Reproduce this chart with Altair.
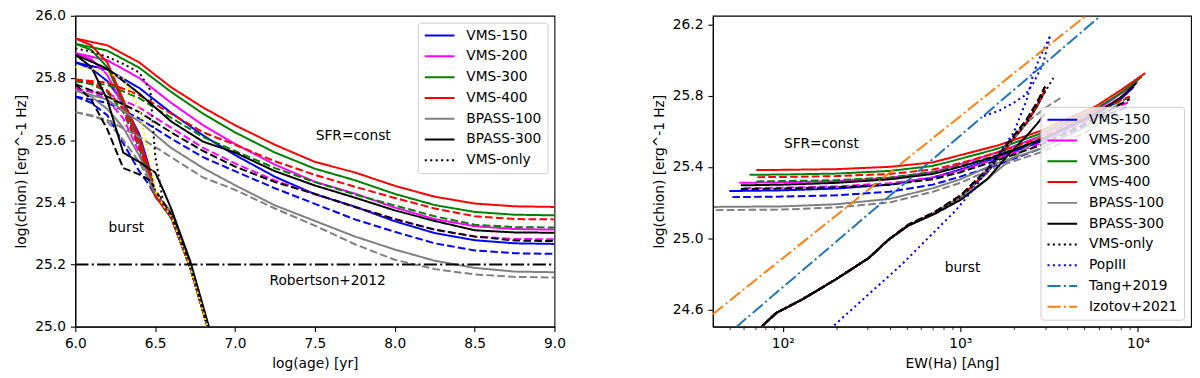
import altair as alt
import pandas as pd

# ---------------- colours / dash patterns ----------------
BLUE, MAG, GRN, RED, GRAY, BLK, YEL = "#0000ff", "#ff00ff", "#008000", "#ff0000", "#808080", "#000000", "#ffee00"
TAB_BLUE, TAB_ORANGE = "#1f77b4", "#ff7f0e"
SOLID = [1, 0]
DASH = [7.7, 3.3]
DOT = [2.1, 3.4]
DASHDOT = [13.3, 3.3, 2.1, 3.3]

# ---------------- left panel: log(age) vs log(chion) ----------------
AGE_C = [6.0, 6.2, 6.4, 6.6, 6.8, 7.0, 7.25, 7.5, 7.75, 8.0, 8.25, 8.5, 8.75, 9.0]
C150 = [25.850, 25.827, 25.768, 25.688, 25.615, 25.552, 25.482, 25.426, 25.386, 25.339, 25.301, 25.278, 25.268, 25.266]
C200 = [25.880, 25.857, 25.800, 25.720, 25.648, 25.588, 25.521, 25.466, 25.428, 25.383, 25.346, 25.323, 25.314, 25.312]
C300 = [25.910, 25.888, 25.833, 25.755, 25.685, 25.625, 25.560, 25.508, 25.471, 25.427, 25.391, 25.369, 25.360, 25.358]
C400 = [25.927, 25.905, 25.850, 25.770, 25.705, 25.648, 25.585, 25.530, 25.496, 25.453, 25.418, 25.396, 25.387, 25.385]
CB100 = [25.760, 25.730, 25.660, 25.575, 25.510, 25.455, 25.390, 25.340, 25.290, 25.248, 25.212, 25.189, 25.177, 25.175]
CB300 = [25.875, 25.830, 25.750, 25.660, 25.595, 25.560, 25.500, 25.454, 25.415, 25.374, 25.340, 25.310, 25.303, 25.302]
D150 = [25.740, 25.720, 25.670, 25.605, 25.545, 25.500, 25.445, 25.395, 25.345, 25.305, 25.268, 25.245, 25.236, 25.234]
D200 = [25.765, 25.750, 25.705, 25.640, 25.575, 25.525, 25.470, 25.427, 25.385, 25.346, 25.312, 25.290, 25.282, 25.281]
D300 = [25.790, 25.778, 25.735, 25.672, 25.610, 25.565, 25.510, 25.465, 25.425, 25.390, 25.355, 25.328, 25.320, 25.319]
D400 = [25.795, 25.785, 25.745, 25.685, 25.625, 25.585, 25.532, 25.488, 25.450, 25.414, 25.380, 25.355, 25.346, 25.345]
DB100 = [25.690, 25.665, 25.610, 25.545, 25.480, 25.440, 25.380, 25.325, 25.265, 25.215, 25.185, 25.168, 25.160, 25.158]
DB300 = [25.780, 25.740, 25.690, 25.625, 25.565, 25.515, 25.465, 25.427, 25.385, 25.346, 25.312, 25.290, 25.277, 25.275]

AGE_B = [6.0, 6.1, 6.2, 6.3, 6.4, 6.47, 6.5, 6.55, 6.6, 6.72, 6.85]
B150 = [25.850, 25.830, 25.790, 25.720, 25.620, 25.500, 25.430, 25.390, 25.355, 25.190, 24.960]
B200 = [25.880, 25.860, 25.810, 25.710, 25.590, 25.470, 25.420, 25.390, 25.355, 25.190, 24.960]
B300 = [25.910, 25.890, 25.835, 25.720, 25.600, 25.480, 25.420, 25.390, 25.355, 25.190, 24.960]
B400 = [25.927, 25.905, 25.850, 25.730, 25.610, 25.490, 25.420, 25.390, 25.355, 25.190, 24.960]
BD150 = [25.740, 25.720, 25.680, 25.590, 25.500, 25.450, 25.420, 25.385, 25.350, 25.190, 24.960]
BD200 = [25.765, 25.755, 25.730, 25.670, 25.560, 25.460, 25.420, 25.385, 25.350, 25.190, 24.960]
BD300 = [25.790, 25.780, 25.755, 25.690, 25.575, 25.460, 25.420, 25.385, 25.350, 25.190, 24.960]
BD400 = [25.795, 25.785, 25.760, 25.700, 25.580, 25.470, 25.420, 25.390, 25.355, 25.190, 24.960]
BB100 = [25.760, 25.740, 25.700, 25.640, 25.550, 25.470, 25.430, 25.400, 25.370, 25.200, 24.965]
BDB100 = [25.690, 25.680, 25.660, 25.600, 25.530, 25.460, 25.430, 25.400, 25.370, 25.200, 24.965]
BB300 = [25.875, 25.835, 25.730, 25.560, 25.530, 25.505, 25.496, 25.440, 25.380, 25.210, 24.975]
BDB300 = [25.780, 25.730, 25.635, 25.510, 25.490, 25.470, 25.440, 25.400, 25.360, 25.200, 24.965]
VO_K = [25.895, 25.885, 25.868, 25.845, 25.818, 25.760, 25.550, 25.400, 25.355, 25.190, 24.960]
VO_Y = [25.835, 25.830, 25.815, 25.800, 25.700, 25.520, 25.440, 25.390, 25.355, 25.190, 24.960]

ROB_X = [6.0, 9.0]
ROB_Y = [25.2, 25.2]

# ---------------- right panel: EW(Ha) vs log(chion) ----------------
EW_C400 = [71, 100, 200, 400, 700, 1000, 1600, 2800, 5800, 8000, 11000]
Y_C400 = [25.382, 25.383, 25.387, 25.400, 25.425, 25.466, 25.518, 25.600, 25.740, 25.830, 25.926]
EW_C300 = [65, 100, 200, 400, 700, 1000, 1600, 2800, 5800, 8000, 10500]
Y_C300 = [25.355, 25.357, 25.362, 25.377, 25.405, 25.445, 25.500, 25.585, 25.725, 25.815, 25.905]
EW_C200 = [57, 100, 200, 400, 700, 1000, 1600, 2800, 5800, 8000, 10000]
Y_C200 = [25.310, 25.313, 25.320, 25.338, 25.370, 25.415, 25.480, 25.570, 25.715, 25.810, 25.880]
EW_C150 = [50, 100, 200, 400, 700, 1000, 1600, 2800, 5800, 8000, 9500]
Y_C150 = [25.264, 25.268, 25.278, 25.300, 25.340, 25.385, 25.450, 25.540, 25.690, 25.780, 25.850]
EW_CB300 = [58, 100, 200, 400, 700, 1000, 1600, 2800, 5800, 8000, 9800]
Y_CB300 = [25.296, 25.300, 25.310, 25.330, 25.360, 25.400, 25.460, 25.550, 25.700, 25.790, 25.870]
EW_CB100 = [41, 100, 200, 400, 700, 1000, 1600, 2800, 5000, 6500, 8000]
Y_CB100 = [25.175, 25.178, 25.190, 25.220, 25.280, 25.330, 25.420, 25.500, 25.620, 25.700, 25.760]

EW_D400 = [72, 100, 200, 400, 700, 1000, 1600, 2800, 5000, 7000, 9000]
Y_D400 = [25.342, 25.343, 25.348, 25.360, 25.385, 25.420, 25.480, 25.560, 25.680, 25.750, 25.795]
EW_D300 = [71, 100, 200, 400, 700, 1000, 1600, 2800, 5000, 7000, 9000]
Y_D300 = [25.318, 25.320, 25.325, 25.340, 25.370, 25.405, 25.465, 25.550, 25.670, 25.745, 25.790]
EW_D200 = [60, 100, 200, 400, 700, 1000, 1600, 2800, 5000, 7000, 9000]
Y_D200 = [25.280, 25.283, 25.290, 25.308, 25.340, 25.380, 25.445, 25.530, 25.650, 25.720, 25.765]
EW_D150 = [52, 100, 200, 400, 700, 1000, 1600, 2800, 5000, 7000, 9000]
Y_D150 = [25.230, 25.233, 25.240, 25.260, 25.300, 25.345, 25.410, 25.500, 25.630, 25.700, 25.740]
EW_DB300 = [58, 100, 200, 400, 700, 1000, 1600, 2800, 5000, 7000, 9000]
Y_DB300 = [25.275, 25.278, 25.285, 25.300, 25.330, 25.370, 25.435, 25.520, 25.640, 25.720, 25.780]
EW_DB100 = [42, 100, 200, 400, 700, 1000, 1600, 2800, 5000, 6500, 8000]
Y_DB100 = [25.157, 25.160, 25.172, 25.200, 25.260, 25.310, 25.400, 25.480, 25.590, 25.660, 25.690]

EW_B = [70, 92, 129, 198, 304, 393, 508, 715, 1006, 1415, 1910, 2366, 2700, 3000]
Y_BVMS = [24.47, 24.58, 24.656, 24.767, 24.887, 24.99, 25.07, 25.14, 25.23, 25.37, 25.536, 25.648, 25.74, 25.83]
Y_BVMS_D = [24.47, 24.58, 24.656, 24.767, 24.887, 24.99, 25.075, 25.145, 25.24, 25.385, 25.55, 25.665, 25.76, 25.85]
Y_BB300 = [24.47, 24.58, 24.656, 24.767, 24.887, 24.99, 25.07, 25.135, 25.215, 25.33, 25.48, 25.575, 25.64, 25.70]
Y_BB100 = [24.47, 24.58, 24.656, 24.767, 24.887, 24.99, 25.07, 25.14, 25.23, 25.33, 25.44, 25.51, 25.56, 25.61]
EW_BG = [70, 92, 129, 198, 304, 393, 508, 715, 1006, 1415, 1910, 2366, 3000, 3790]
Y_BDB100 = [24.47, 24.58, 24.656, 24.767, 24.887, 24.99, 25.07, 25.14, 25.23, 25.37, 25.536, 25.648, 25.73, 25.796]
EW_VO = [70, 92, 129, 198, 304, 393, 508, 715, 1006, 1415, 1910, 2366, 2800, 3335]
Y_VO = [24.47, 24.58, 24.656, 24.767, 24.887, 24.99, 25.07, 25.14, 25.23, 25.37, 25.536, 25.648, 25.77, 25.898]

EW_P3B = [185, 304, 467, 715, 925, 1200, 1479, 1996, 2366, 2578, 2850, 3190]
Y_P3B = [24.49, 24.684, 24.851, 25.036, 25.147, 25.28, 25.407, 25.592, 25.777, 25.926, 26.03, 26.13]
EW_P3C = [1358, 1650, 1995, 2300, 2578, 2930, 3190]
Y_P3C = [25.685, 25.715, 25.759, 25.80, 25.87, 25.98, 26.13]

EW_TANG = [54.6, 6200]
Y_TANG = [24.5, 26.25]
EW_IZO = [40.4, 5115]
Y_IZO = [24.573, 26.25]

LEG_L = ["VMS-150", "VMS-200", "VMS-300", "VMS-400", "BPASS-100", "BPASS-300", "VMS-only"]
LEG_L_COL = [BLUE, MAG, GRN, RED, GRAY, BLK, BLK]
LEG_L_DASH = [SOLID, SOLID, SOLID, SOLID, SOLID, SOLID, DOT]
LEG_R = LEG_L + ["PopIII", "Tang+2019", "Izotov+2021"]
LEG_R_COL = LEG_L_COL + [BLUE, TAB_BLUE, TAB_ORANGE]
LEG_R_DASH = LEG_L_DASH + [DOT, DASHDOT, DASHDOT]

FONT = "DejaVu Sans"
FS = 13.9


def build(specs):
    rows = []
    for i, (xs, ys, col, dash) in enumerate(specs):
        for x, y in zip(xs, ys):
            rows.append({"s": f"{i:02d}", "x": x, "y": y, "col": col, "dash": dash})
    return pd.DataFrame(rows)


specs_L = [
    (AGE_C, C150, BLUE, SOLID), (AGE_C, D150, BLUE, DASH), (AGE_B, B150, BLUE, SOLID), (AGE_B, BD150, BLUE, DASH),
    (AGE_C, C200, MAG, SOLID), (AGE_C, D200, MAG, DASH), (AGE_B, B200, MAG, SOLID), (AGE_B, BD200, MAG, DASH),
    (AGE_C, C300, GRN, SOLID), (AGE_C, D300, GRN, DASH), (AGE_B, B300, GRN, SOLID), (AGE_B, BD300, GRN, DASH),
    (AGE_C, C400, RED, SOLID), (AGE_C, D400, RED, DASH), (AGE_B, B400, RED, SOLID), (AGE_B, BD400, RED, DASH),
    (AGE_C, CB100, GRAY, SOLID), (AGE_C, DB100, GRAY, DASH), (AGE_B, BB100, GRAY, SOLID), (AGE_B, BDB100, GRAY, DASH),
    (AGE_C, CB300, BLK, SOLID), (AGE_C, DB300, BLK, DASH), (AGE_B, BB300, BLK, SOLID), (AGE_B, BDB300, BLK, DASH),
    (AGE_B, VO_K, BLK, DOT), (AGE_B, VO_Y, YEL, DOT),
    (ROB_X, ROB_Y, BLK, DASHDOT),
]
specs_R = [
    (EW_C150, Y_C150, BLUE, SOLID), (EW_D150, Y_D150, BLUE, DASH), (EW_B, Y_BVMS, BLUE, SOLID), (EW_B, Y_BVMS_D, BLUE, DASH),
    (EW_C200, Y_C200, MAG, SOLID), (EW_D200, Y_D200, MAG, DASH), (EW_B, Y_BVMS, MAG, SOLID), (EW_B, Y_BVMS_D, MAG, DASH),
    (EW_C300, Y_C300, GRN, SOLID), (EW_D300, Y_D300, GRN, DASH), (EW_B, Y_BVMS, GRN, SOLID), (EW_B, Y_BVMS_D, GRN, DASH),
    (EW_C400, Y_C400, RED, SOLID), (EW_D400, Y_D400, RED, DASH), (EW_B, Y_BVMS, RED, SOLID), (EW_B, Y_BVMS_D, RED, DASH),
    (EW_CB100, Y_CB100, GRAY, SOLID), (EW_DB100, Y_DB100, GRAY, DASH), (EW_B, Y_BB100, GRAY, SOLID), (EW_BG, Y_BDB100, GRAY, DASH),
    (EW_CB300, Y_CB300, BLK, SOLID), (EW_DB300, Y_DB300, BLK, DASH), (EW_B, Y_BB300, BLK, SOLID), (EW_B, Y_BVMS_D, BLK, DASH),
    (EW_VO, Y_VO, BLK, DOT),
    (EW_P3B, Y_P3B, BLUE, DOT), (EW_P3C, Y_P3C, BLUE, DOT),
    (EW_TANG, Y_TANG, TAB_BLUE, DASHDOT), (EW_IZO, Y_IZO, TAB_ORANGE, DASHDOT),
]

df_L = build(specs_L)
df_R = build(specs_R)


def legend(orient):
    return alt.Legend(
        title=None, orient=orient, offset=7, symbolType="stroke", symbolSize=900,
        symbolStrokeWidth=2, clipHeight=14, rowPadding=7, padding=6, labelOffset=11,
        labelFont=FONT, labelFontSize=FS, labelColor="black", labelLimit=300,
        strokeColor="#cccccc", fillColor="rgba(255,255,255,0.8)", cornerRadius=3,
    )


# ---------------- left chart ----------------
xL = alt.X("x:Q", scale=alt.Scale(domain=[6.0, 9.0], nice=False, zero=False),
           axis=alt.Axis(title="log(age) [yr]", values=[6.0, 6.5, 7.0, 7.5, 8.0, 8.5, 9.0], format=".1f",
                         labelFlush=False, labelOverlap=False))
yL = alt.Y("y:Q", scale=alt.Scale(domain=[25.0, 26.0], nice=False, zero=False),
           axis=alt.Axis(title="log(chion) [erg^-1 Hz]", values=[25.0, 25.2, 25.4, 25.6, 25.8, 26.0], format=".1f",
                         labelFlush=False, labelOverlap=False))

lines_L = alt.Chart(df_L).mark_line(clip=True, strokeWidth=2).encode(
    x=xL, y=yL, detail="s:N",
    stroke=alt.Stroke("col:N", scale=None),
    strokeDash=alt.StrokeDash("dash:N", scale=None),
)
txt_L = alt.Chart(pd.DataFrame({
    "x": [6.32, 7.74, 7.58], "y": [25.316, 25.614, 25.146], "t": ["burst", "SFR=const", "Robertson+2012"]
})).mark_text(font=FONT, fontSize=FS, color="black").encode(x="x:Q", y="y:Q", text="t:N")
leg_L = alt.Chart(pd.DataFrame({"lgL": LEG_L, "x": [5.0] * 7, "y": [24.0] * 7})).mark_line(clip=True).encode(
    x="x:Q", y="y:Q",
    color=alt.Color("lgL:N", scale=alt.Scale(domain=LEG_L, range=LEG_L_COL), legend=legend("top-right")),
    strokeDash=alt.StrokeDash("lgL:N", scale=alt.Scale(domain=LEG_L, range=LEG_L_DASH), legend=legend("top-right")),
)
left = alt.layer(lines_L, txt_L, leg_L).properties(width=484, height=314)

# ---------------- right chart ----------------
MAJ = "datum.value == 100 || datum.value == 1000 || datum.value == 10000"
xR = alt.X("x:Q", scale=alt.Scale(type="log", domain=[40.4, 19900], nice=False),
           axis=alt.Axis(
               title="EW(Ha) [Ang]",
               values=[50, 60, 70, 80, 90, 100, 200, 300, 400, 500, 600, 700, 800, 900, 1000,
                       2000, 3000, 4000, 5000, 6000, 7000, 8000, 9000, 10000],
               labelExpr="datum.value == 100 ? '10\u00b2' : datum.value == 1000 ? '10\u00b3' : datum.value == 10000 ? '10\u2074' : ''",
               labelOverlap=False, labelFlush=False,
               tickSize={"condition": {"test": MAJ, "value": 5}, "value": 3},
               tickWidth={"condition": {"test": MAJ, "value": 1.1}, "value": 0.8},
           ))
yR = alt.Y("y:Q", scale=alt.Scale(domain=[24.503, 26.248], nice=False, zero=False),
           axis=alt.Axis(title="log(chion) [erg^-1 Hz]",
                         values=[24.6, 24.8, 25.0, 25.2, 25.4, 25.6, 25.8, 26.0, 26.2], format=".1f",
                         labelOverlap=False, labelFlush=False))

lines_R = alt.Chart(df_R).mark_line(clip=True, strokeWidth=2).encode(
    x=xR, y=yR, detail="s:N",
    stroke=alt.Stroke("col:N", scale=None),
    strokeDash=alt.StrokeDash("dash:N", scale=None),
)
txt_R = alt.Chart(pd.DataFrame({
    "x": [165, 1028], "y": [25.527, 24.832], "t": ["SFR=const", "burst"]
})).mark_text(font=FONT, fontSize=FS, color="black").encode(x="x:Q", y="y:Q", text="t:N")
leg_R = alt.Chart(pd.DataFrame({"lgR": LEG_R, "x": [10.0] * 10, "y": [24.0] * 10})).mark_line(clip=True).encode(
    x="x:Q", y="y:Q",
    color=alt.Color("lgR:N", scale=alt.Scale(domain=LEG_R, range=LEG_R_COL), legend=legend("bottom-right")),
    strokeDash=alt.StrokeDash("lgR:N", scale=alt.Scale(domain=LEG_R, range=LEG_R_DASH), legend=legend("bottom-right")),
)
right = alt.layer(lines_R, txt_R, leg_R).properties(width=483, height=314)

chart = alt.hconcat(left, right, spacing=86).resolve_scale(
    color="independent", strokeDash="independent"
).properties(
    padding={"left": 6, "top": -2, "right": 0, "bottom": 0}
).configure(font=FONT).configure_view(stroke="black", strokeWidth=1.1).configure_axis(
    labelFont=FONT, labelFontSize=FS, labelColor="black", titleFont=FONT, titleFontSize=FS,
    titleFontWeight="normal", titleColor="black", domainColor="black", domainWidth=1.1,
    tickColor="black", tickWidth=1.1, tickSize=5, labelPadding=5, titlePadding=6, grid=False,
)

chart.save("out.html", embed_options={"renderer": "svg", "actions": False})
